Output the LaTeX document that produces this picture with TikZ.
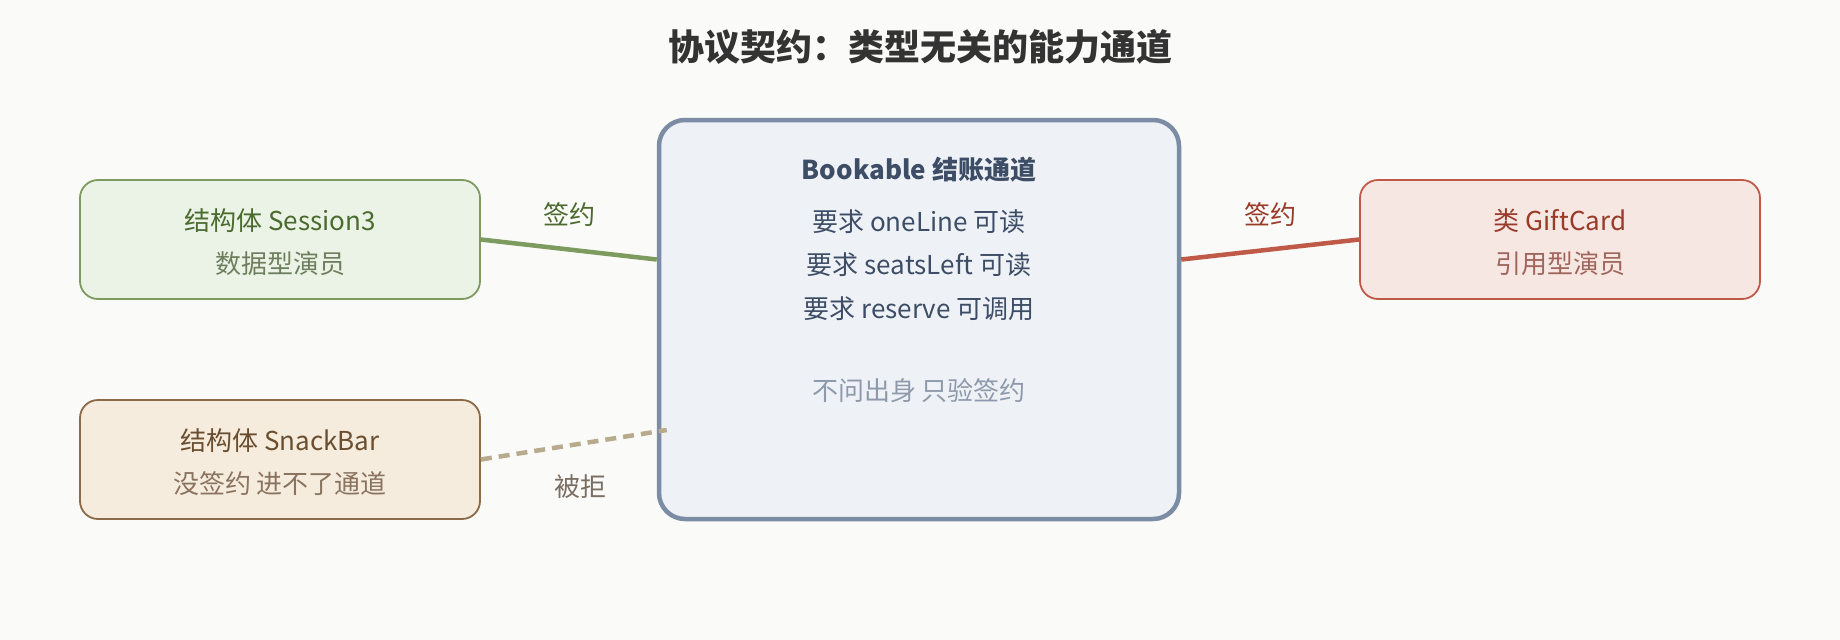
\documentclass[tikz,border=0pt]{standalone}
\usepackage{fontspec}
\setmainfont{Noto Sans CJK SC}
\definecolor{bgc}{HTML}{FAFAF8}
\definecolor{titleC}{HTML}{333333}
\definecolor{grS}{HTML}{7D9B5E}
\definecolor{grF}{HTML}{EBF3E6}
\definecolor{grT}{HTML}{4A6A2E}
\definecolor{grD}{HTML}{6E7F5E}
\definecolor{sbS}{HTML}{8C6A48}
\definecolor{sbF}{HTML}{F5ECDD}
\definecolor{sbT}{HTML}{6B4E30}
\definecolor{sbD}{HTML}{8A7460}
\definecolor{bkS}{HTML}{7D8CA5}
\definecolor{bkF}{HTML}{EEF2F7}
\definecolor{bkT}{HTML}{3E4D66}
\definecolor{bkD}{HTML}{8E9AAB}
\definecolor{gcS}{HTML}{C05A48}
\definecolor{gcF}{HTML}{F7E7E3}
\definecolor{gcT}{HTML}{9A3A28}
\definecolor{gcD}{HTML}{A0665C}
\definecolor{rjC}{HTML}{B8AA8C}
\definecolor{rjT}{HTML}{7A6E62}
\begin{document}
\begin{tikzpicture}[x=1pt,y=-1pt,
  box/.style={draw, rounded corners=18pt, minimum width=400pt, minimum height=119pt, line width=1.8pt, inner sep=0pt},
  txt/.style={font=\fontsize{26}{31}\selectfont, inner sep=0pt},
  btxt/.style={font=\fontsize{26}{31}\selectfont\bfseries, inner sep=0pt},
  conn/.style={line width=4.5pt}]
\useasboundingbox[fill=bgc] (0,0) rectangle (1840,640);
\node[font=\fontsize{36}{43}\selectfont\bfseries, text=titleC, inner sep=0pt] (title) at (920,47) {协议契约：类型无关的能力通道};
% boxes
\node[box, draw=grS, fill=grF] (s3) at (280,239.5) {};
\node[box, draw=sbS, fill=sbF] (sb) at (280,459.5) {};
\node[box, draw=gcS, fill=gcF] (gc) at (1560,239.5) {};
\node[draw=bkS, fill=bkF, line width=4.5pt, rounded corners=26pt, minimum width=520pt, minimum height=399pt, inner sep=0pt] (bk) at (919,319.5) {};
\coordinate (rej) at ([xshift=10pt,yshift=-110.5pt]bk.west);
% connectors
\draw[conn, grS] (s3.east) -- ([yshift=60pt]bk.west);
\draw[conn, gcS] ([yshift=60pt]bk.east) -- (gc.west);
\draw[conn, rjC, dash pattern=on 11pt off 7pt] (sb.east) -- (rej);
% box texts
\node[txt, text=grT] (s3t) at (280,221) {结构体 Session3};
\node[txt, text=grD] (s3d) at (280,263.5) {数据型演员};
\node[txt, text=sbT] (sbt) at (280,441) {结构体 SnackBar};
\node[txt, text=sbD] (sbd) at (280,483.5) {没签约 进不了通道};
\node[txt, text=gcT] (gct) at (1560,221) {类 GiftCard};
\node[txt, text=gcD] (gcd) at (1560,263.5) {引用型演员};
\node[btxt, text=bkT] (bkt) at (919,170) {Bookable 结账通道};
\node[txt, text=bkT] (bk1) at (919,221.5) {要求 oneLine 可读};
\node[txt, text=bkT] (bk2) at (919,265) {要求 seatsLeft 可读};
\node[txt, text=bkT] (bk3) at (919,309) {要求 reserve 可调用};
\node[txt, text=bkD] (bk4) at (919,391) {不问出身 只验签约};
% connector labels
\node[txt, text=grT] (l1) at (569,215) {签约};
\node[txt, text=gcT] (l2) at (1270,215) {签约};
\node[txt, text=rjT] (l3) at (580,487) {被拒};
\end{tikzpicture}
\end{document}
